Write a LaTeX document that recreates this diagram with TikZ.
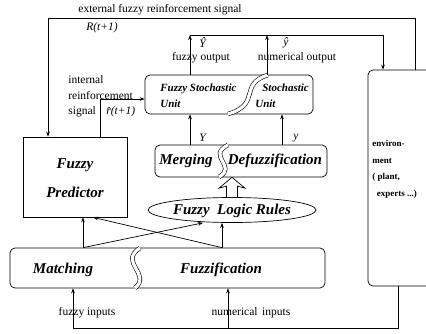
\documentclass[tikz,border=0pt]{standalone}
\usepackage{fontspec}
\setmainfont{Liberation Serif}
\usetikzlibrary{arrows.meta,shapes.geometric,calc}
\begin{document}
\begin{tikzpicture}[x=1pt,y=-1pt,line width=0.7pt,
  sqbox/.style={draw,rectangle,inner sep=0pt},
  rbox/.style={draw,rectangle,rounded corners=5pt,inner sep=0pt},
  lbl/.style={font=\fontsize{11.5}{13}\selectfont,inner sep=0pt},
  envtxt/.style={font=\fontsize{9}{16.5}\selectfont\bfseries,inner sep=0pt,align=left},
  big/.style={font=\fontsize{15}{18}\selectfont\bfseries\itshape,inner sep=0pt},
  mid/.style={font=\fontsize{11}{16}\selectfont\bfseries\itshape,inner sep=0pt,align=left},
  arr/.style={-{Stealth[length=5pt,width=3.6pt]}},
  wave/.style={double,double distance=3.2pt,line width=0.6pt}]
\useasboundingbox (0,0) rectangle (426,333);

% boxes
\node[sqbox,minimum width=104pt,minimum height=80pt] (pred) at (75,177) {};
\node[rbox,minimum width=168pt,minimum height=39pt] (fsu) at (229,94.5) {};
\node[rbox,minimum width=172pt,minimum height=32pt] (merge) at (241,161) {};
\node[draw,ellipse,minimum width=168pt,minimum height=25pt,inner sep=0pt] (rules) at (232,210) {};
\node[rbox,minimum width=315pt,minimum height=40pt] (match) at (167.5,268) {};
\node[rbox,minimum width=140pt,minimum height=216pt] (env) at (438,178) {};

% wavy dividers
\draw[wave] (268,75) .. controls (238,84) and (262,104) .. (228,114);
\draw[wave] (228,145) .. controls (206,156) and (238,166) .. (219,177);
\draw[wave] (140,248) .. controls (118,262) and (152,274) .. (135,288);

% box texts
\node[big] (predA) at (75,165) {Fuzzy};
\node[big] (predB) at (75,192) {Predictor};
\node[mid,anchor=west] (fsuA) at (160,96) {Fuzzy Stochastic\\Unit};
\node[mid,anchor=west] (fsuB) at (262,88) {Stochastic};
\node[mid,anchor=west] (fsuC) at (255,104) {Unit};
\node[big] (mergeA) at (186,161) {Merging};
\node[big] (mergeB) at (275,161) {Defuzzification};
\node[big] (rulesA) at (232,211) {Fuzzy\hspace{0.5em}Logic Rules};
\node[big] (matchA) at (63,270) {Matching};
\node[big] (matchB) at (221,270) {Fuzzification};
\node[envtxt,anchor=north west] (envA) at (372,140) {environ-\\ment\\( plant,\\\hspace{0.5em}experts ...)};

% coordinates
\coordinate (e1) at (415,18);
\coordinate (e2) at (48,18);
\coordinate (o1) at (190,35);
\coordinate (o2) at (267,35);
\coordinate (o3) at (383,35);
\coordinate (i1) at (100,99);
\coordinate (ys) at (282,0);
\coordinate (m1) at (83,0);
\coordinate (m2) at (222,0);
\coordinate (p1) at (93,0);
\coordinate (r1) at (203,0);
\coordinate (b1) at (73,328);
\coordinate (b2) at (398,328);
\coordinate (nx) at (228,328);

% external reinforcement
\draw[arr] (env.north -| e1) -- (e1) -- (e2) -- (pred.north -| e2);
% outputs
\draw[arr] (fsu.north -| o1) -- (o1);
\draw[arr] (fsu.north -| o2) -- (o2);
\draw[arr] (o1) -- (o3) -- (env.north -| o3);
% internal reinforcement
\draw[arr] (pred.north -| i1) -- (i1) -- (fsu.west |- i1);
% Y and y
\draw[arr] (merge.north -| o1) -- (fsu.south -| o1);
\draw[arr] (merge.north -| ys) -- (fsu.south -| ys);
% hollow double arrow
\draw[fill=white] ($(rules.north)+(-5.5,0)$) -- ($(rules.north)+(-5.5,-11)$) -- ($(rules.north)+(-13,-9)$) -- (rules.north |- merge.south) -- ($(rules.north)+(13,-9)$) -- ($(rules.north)+(5.5,-11)$) -- ($(rules.north)+(5.5,0)$);
% from matching/fuzzification
\draw[arr] (match.north -| m1) -- (pred.south -| m1);
\draw[arr] (match.north -| m1) -- (rules.south -| r1);
\draw[arr] (match.north -| m2) -- (rules.south -| m2);
\draw[arr] (match.north -| m2) -- (pred.south -| p1);
% inputs
\draw[arr] (env.south -| b2) -- (b2) -- (b1) -- (match.south -| b1);
\draw[arr] (nx) -- (match.south -| nx);

% labels
\node[lbl] (lext) at (160,10) {external fuzzy reinforcement signal};
\node[lbl] (lR) at (102,28) {\textit{R(t+1)}};
\node[lbl] (lYh) at (203,43) {\textit{\^Y}};
\node[lbl] (lyh) at (286,43) {\textit{\^y}};
\node[lbl] (lfo) at (201,58) {fuzzy output};
\node[lbl] (lno) at (297,58) {numerical output};
\node[lbl,anchor=west] (lint1) at (68,80) {internal};
\node[lbl,anchor=west] (lint2) at (68,96) {reinforcement};
\node[lbl,anchor=west] (lint3) at (68,112) {signal};
\node[lbl,anchor=west] (lrh) at (106,112) {\textit{\^r(t+1)}};
\node[lbl] (lY) at (203,138) {\textit{Y}};
\node[lbl] (ly) at (296,138) {\textit{y}};
\node[lbl] (lfi) at (87,313) {fuzzy inputs};
\node[lbl] (lni) at (251,313) {numerical\hspace{0.4em}inputs};
\end{tikzpicture}
\end{document}
